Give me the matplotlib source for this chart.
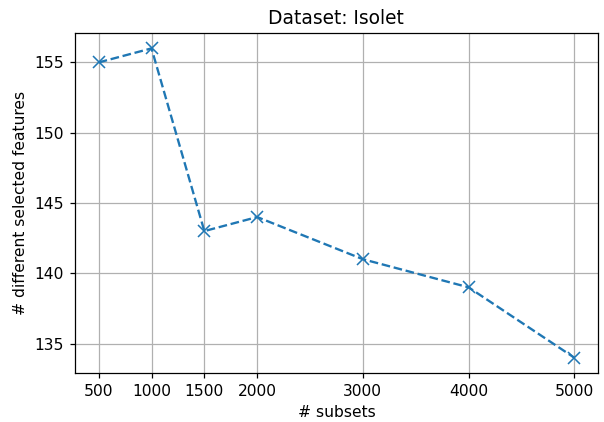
import matplotlib
matplotlib.use("Agg")
import matplotlib.pyplot as plt

# values
n_subsets = [500, 1000, 1500, 2000, 3000, 4000, 5000]
n_features = [155, 156, 143, 144, 141, 139, 134]

dpi = 112
fig, ax = plt.subplots(figsize=(604 / dpi, 422 / dpi), dpi=dpi)
ax.plot(n_subsets, n_features, linestyle='--', marker='x', markersize=8, color='#1f77b4')
ax.set_xticks(n_subsets)
ax.set_title('Dataset: Isolet')
ax.set_xlabel('# subsets')
ax.set_ylabel('# different selected features')
ax.grid(True)
fig.subplots_adjust(left=0.124, right=0.99, top=0.922, bottom=0.116)
fig.savefig('out.png', dpi=dpi)
